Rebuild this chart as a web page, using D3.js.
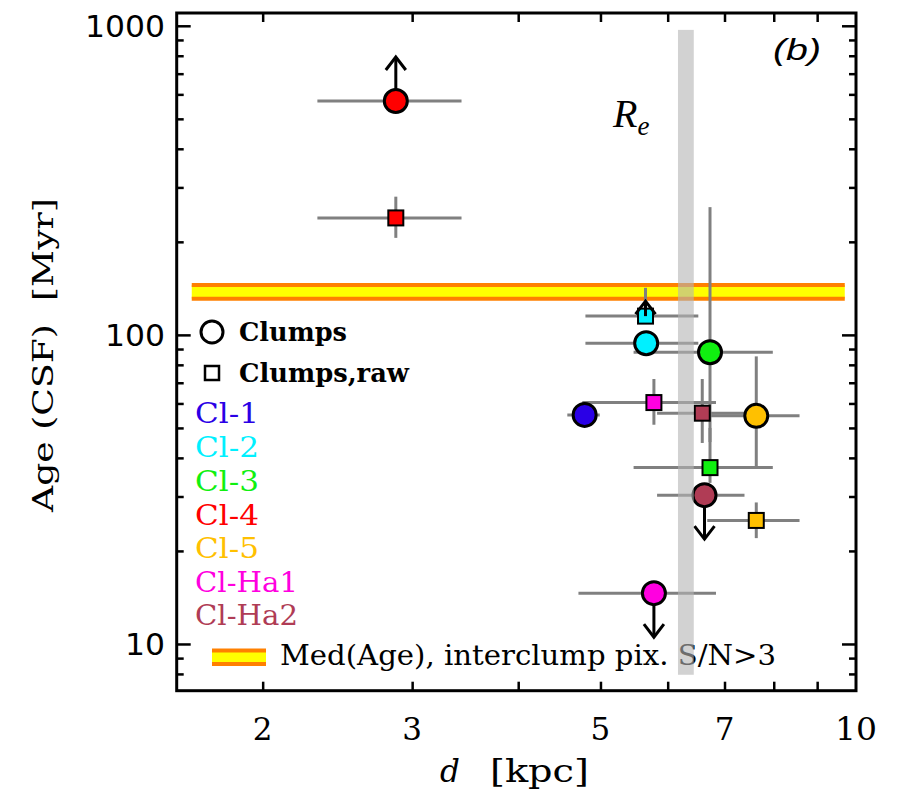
<!DOCTYPE html>
<html><head><meta charset="utf-8">
<script src="https://cdn.jsdelivr.net/npm/d3@7"></script>
<style>body{margin:0;background:#fff}</style>
</head><body>
<svg id="chart" width="908" height="793"></svg>
<script>
// ---------------- DATA ----------------
const clumpNames = ["Cl-1","Cl-2","Cl-3","Cl-4","Cl-5","Cl-Ha1","Cl-Ha2"];
// Clumps (circles)
const circD     = [4.79, 5.66, 6.73, 2.87, 7.63, 5.78, 6.63];
const circAge   = [55.1, 94.0, 87.9, 571, 54.7, 14.6, 30.3];
const circDLo   = [4.57, 4.80, 5.47, 2.32, 6.68, 4.71, 5.83];
const circDHi   = [4.99, 6.52, 7.98, 3.43, 8.58, 6.84, 7.39];
const circAgeLo = [null, null, 45.0, null, 37.4, null, null];
const circAgeHi = [null, null, 259, null, 85.2, null, null];
const circLimit = [0, 0, 0, 1, 0, -1, -1];   // 1 = lower limit, -1 = upper limit
// Clumps, raw (squares)
const sqD     = [null, 5.65, 6.73, 2.87, 7.63, 5.78, 6.59];
const sqAge   = [null, 115, 37.2, 239, 25.1, 60.4, 55.8];
const sqDLo   = [null, 4.80, 5.47, 2.32, 6.68, 4.76, 5.83];
const sqDHi   = [null, 6.52, 7.98, 3.43, 8.58, 6.84, 7.41];
const sqAgeLo = [null, null, 33.2, 206, 22.0, 51.2, 44.7];
const sqAgeHi = [null, 142, 50.0, 280, 28.7, 72.0, 72.0];
const sqLimit = [0, 1, 0, 0, 0, 0, 0];
// median interclump age band and effective radius band
const medAgeRange = [131, 145];
const medDRange   = [1.65, 9.70];
const reDRange    = [6.17, 6.44];
const reAgeRange  = [7.95, 970];
// axes
const xDomain = [1.584, 10];
const yDomain = [7.06, 1100];
const xTickLabels = [2, 3, 5, 7, 10];
const xTicks = [2, 3, 4, 5, 6, 7, 8, 9];
const yMajorTicks = [10, 100, 1000];
const yMinorTicks = [8, 9, 20, 30, 40, 50, 60, 70, 80, 90, 200, 300, 400, 500, 600, 700, 800, 900];
const legendTexts = ["Clumps", "Clumps,raw"];
const medLabel = "Med(Age), interclump pix. S/N>3";

// ---------------- STYLE ----------------
const colors = ["#2a00e6", "#00f0ff", "#10f010", "#ff0000", "#ffc000", "#ff00e0", "#b03c55"];
const serif = "'DejaVu Serif', serif";

const svg = d3.select("#chart");
const L = 176.7, R = 856, T = 13, B = 690.7;
const x = d3.scaleLog().domain(xDomain).range([L, R]);
const y = d3.scaleLog().domain(yDomain).range([B, T]);

// median band
const band = svg.append("g");
band.append("rect").attr("x", x(medDRange[0])).attr("width", x(medDRange[1]) - x(medDRange[0]))
  .attr("y", y(medAgeRange[1])).attr("height", y(medAgeRange[0]) - y(medAgeRange[1])).attr("fill", "#ffff00");
medAgeRange.forEach(v => band.append("line").attr("x1", x(medDRange[0])).attr("x2", x(medDRange[1]))
  .attr("y1", y(v)).attr("y2", y(v)).attr("stroke", "#ff8000").attr("stroke-width", 4));

// error bars
const eb = svg.append("g").attr("stroke", "#808080").attr("stroke-width", 3);
function errBars(D, A, DLo, DHi, ALo, AHi) {
  D.forEach((d, i) => {
    if (d == null) return;
    eb.append("line").attr("x1", x(DLo[i])).attr("x2", x(DHi[i])).attr("y1", y(A[i])).attr("y2", y(A[i]));
    const lo = ALo[i] != null ? ALo[i] : A[i], hi = AHi[i] != null ? AHi[i] : A[i];
    if (lo !== hi) eb.append("line").attr("x1", x(d)).attr("x2", x(d)).attr("y1", y(lo)).attr("y2", y(hi));
  });
}
errBars(circD, circAge, circDLo, circDHi, circAgeLo, circAgeHi);
errBars(sqD, sqAge, sqDLo, sqDHi, sqAgeLo, sqAgeHi);

function arrow(g, cx, cy, dir, len) {
  const tip = cy - dir * len;
  g.append("line").attr("x1", cx).attr("x2", cx).attr("y1", cy).attr("y2", tip)
    .attr("stroke", "#000").attr("stroke-width", 3);
  g.append("polyline").attr("points", `${cx-10},${tip + dir*13} ${cx},${tip} ${cx+10},${tip + dir*13}`)
    .attr("fill", "none").attr("stroke", "#000").attr("stroke-width", 3);
}

// circle arrows then circles
const mk = svg.append("g");
circD.forEach((d, i) => { if (circLimit[i]) arrow(mk, x(d), y(circAge[i]), circLimit[i], 44); });
circD.forEach((d, i) => {
  mk.append("circle").attr("cx", x(d)).attr("cy", y(circAge[i])).attr("r", 11.5)
    .attr("fill", colors[i]).attr("stroke", "#000").attr("stroke-width", 3);
});
sqD.forEach((d, i) => {
  if (d == null) return;
  mk.append("rect").attr("x", x(d) - 7.5).attr("y", y(sqAge[i]) - 7.5).attr("width", 15).attr("height", 15)
    .attr("fill", colors[i]).attr("stroke", "#000").attr("stroke-width", 2);
});
sqD.forEach((d, i) => { if (d != null && sqLimit[i]) arrow(mk, x(d), y(sqAge[i]), sqLimit[i], 15); });

// legend
const lg = svg.append("g");
lg.append("circle").attr("cx", 212).attr("cy", 332).attr("r", 11).attr("fill", "none").attr("stroke", "#000").attr("stroke-width", 3);
lg.append("rect").attr("x", 205).attr("y", 366).attr("width", 14).attr("height", 14).attr("fill", "none").attr("stroke", "#000").attr("stroke-width", 2.5);
const legY = [332, 373];
const legLen = [108, 170];
legendTexts.forEach((t, i) => lg.append("text").attr("x", 239).attr("y", legY[i] + 9).text(t)
  .attr("font-family", serif).attr("font-weight", "bold").attr("font-size", 26)
  .attr("textLength", legLen[i]).attr("lengthAdjust", "spacingAndGlyphs"));
const clY = [413, 447, 480.5, 515, 548, 582, 615];
clumpNames.forEach((t, i) => lg.append("text").attr("x", 195).attr("y", clY[i] + 10).text(t)
  .attr("fill", colors[i]).attr("font-family", serif).attr("font-size", 27)
  .attr("textLength", t.length > 4 ? 103 : 64).attr("lengthAdjust", "spacingAndGlyphs"));
lg.append("rect").attr("x", 212).attr("y", 650.5).attr("width", 54).attr("height", 13.5).attr("fill", "#ffff00");
[650.5, 664].forEach(v => lg.append("line").attr("x1", 212).attr("x2", 266).attr("y1", v).attr("y2", v)
  .attr("stroke", "#ff8000").attr("stroke-width", 4));
lg.append("text").attr("x", 280).attr("y", 665).text(medLabel)
  .attr("font-family", serif).attr("font-size", 27)
  .attr("textLength", 496).attr("lengthAdjust", "spacingAndGlyphs");

// R_e band (semi-transparent, on top)
svg.append("rect").attr("x", x(reDRange[0])).attr("width", x(reDRange[1]) - x(reDRange[0]))
  .attr("y", y(reAgeRange[1])).attr("height", y(reAgeRange[0]) - y(reAgeRange[1]))
  .attr("fill", "#b4b4b4").attr("fill-opacity", 0.6);
const re = svg.append("text").attr("x", 613).attr("y", 127)
  .attr("font-family", "'Liberation Serif', serif").attr("font-style", "italic").attr("font-size", 40);
re.append("tspan").text("R");
re.append("tspan").text("e").attr("font-size", 27).attr("dy", 8);
svg.append("text").attr("x", 773).attr("y", 60).text("(b)")
  .attr("font-family", "'Liberation Sans', sans-serif").attr("font-style", "italic")
  .attr("font-size", 30).attr("textLength", 48).attr("lengthAdjust", "spacingAndGlyphs");

// axes ticks (inward)
const ax = svg.append("g");
const tk = g => g.call(s => s.select(".domain").remove()).call(s => s.selectAll("text").remove())
  .call(s => s.selectAll("line").attr("stroke", "#000").attr("stroke-width", 2.5));
ax.append("g").attr("transform", `translate(0,${B})`).call(d3.axisBottom(x).tickValues(xTicks).tickSize(-9)).call(tk);
ax.append("g").attr("transform", `translate(0,${T})`).call(d3.axisTop(x).tickValues(xTicks).tickSize(-9)).call(tk);
ax.append("g").attr("transform", `translate(${L},0)`).call(d3.axisLeft(y).tickValues(yMajorTicks).tickSize(-14)).call(tk);
ax.append("g").attr("transform", `translate(${L},0)`).call(d3.axisLeft(y).tickValues(yMinorTicks).tickSize(-7)).call(tk);
ax.append("g").attr("transform", `translate(${R},0)`).call(d3.axisRight(y).tickValues(yMajorTicks).tickSize(-14)).call(tk);
ax.append("g").attr("transform", `translate(${R},0)`).call(d3.axisRight(y).tickValues(yMinorTicks).tickSize(-7)).call(tk);
svg.append("rect").attr("x", L).attr("y", T).attr("width", R - L).attr("height", B - T)
  .attr("fill", "none").attr("stroke", "#000").attr("stroke-width", 3);

// tick labels
xTickLabels.forEach(v => svg.append("text").attr("x", x(v)).attr("y", 740).attr("text-anchor", "middle")
  .attr("font-family", serif).attr("font-size", 31).text(v)
  .call(t => { if (v >= 10) t.attr("textLength", 42).attr("lengthAdjust", "spacingAndGlyphs"); }));
yMajorTicks.forEach(v => svg.append("text").attr("x", 165).attr("y", y(v) + 11).attr("text-anchor", "end")
  .attr("font-family", "'DejaVu Sans', sans-serif").attr("font-size", 30).text(v)
  .attr("textLength", String(v).length * 20).attr("lengthAdjust", "spacingAndGlyphs"));

// axis titles
const xt = svg.append("text").attr("x", 440).attr("y", 782).attr("font-family", serif).attr("font-size", 31);
xt.append("tspan").text("d").attr("font-style", "italic");
xt.append("tspan").text("[kpc]").attr("x", 490).attr("textLength", 99).attr("lengthAdjust", "spacingAndGlyphs");
svg.append("text").attr("transform", "translate(53,355) rotate(-90)").attr("text-anchor", "middle")
  .attr("font-family", serif).attr("font-size", 28).attr("xml:space", "preserve")
  .attr("textLength", 314).attr("lengthAdjust", "spacingAndGlyphs").text("Age (CSF)  [Myr]");
</script>
</body></html>
